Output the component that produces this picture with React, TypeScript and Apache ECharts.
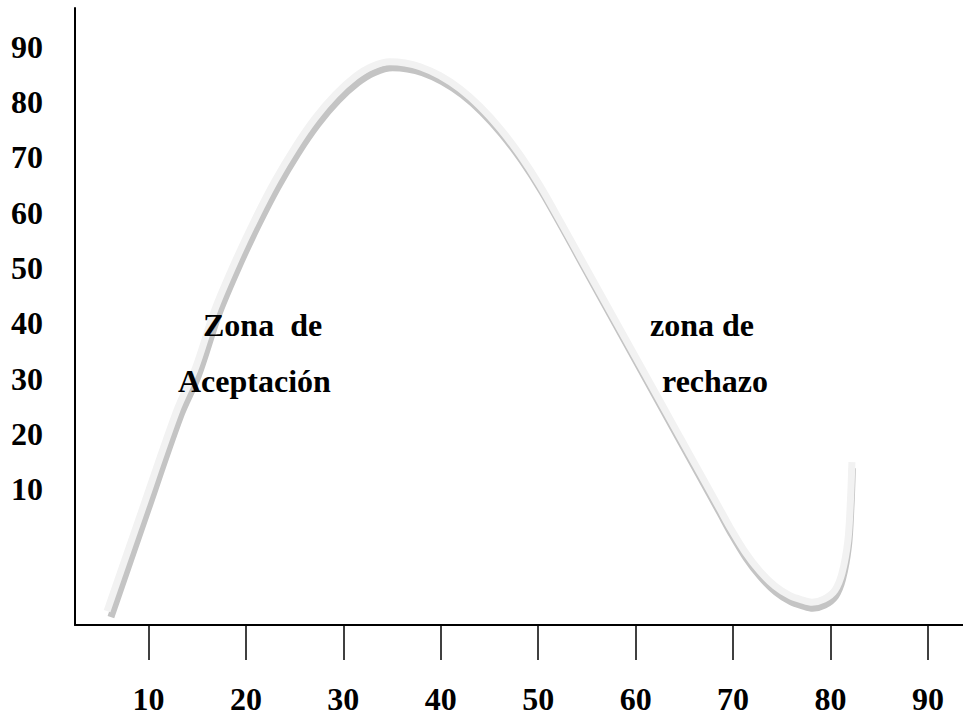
import React, { useEffect, useRef } from "react";
import * as echarts from "echarts";

const xTickValues = [10, 20, 30, 40, 50, 60, 70, 80, 90];
const yTickValues = [10, 20, 30, 40, 50, 60, 70, 80, 90];

const curveX = [
  5.75, 9.34, 12.93, 14.78, 16.83, 18.88, 20.94, 22.99, 25.04, 27.09, 29.15, 31.2, 32.94, 34.79,
  36.33, 37.87, 39.92, 41.97, 44.03, 46.08, 48.13, 50.18, 52.24, 54.29, 56.34, 60.45, 64.55, 66.61,
  68.66, 69.68, 71.22, 72.76, 74.3, 75.84, 77.07, 78.1, 79.33, 80.46, 81.18, 81.79, 82.05, 82.2,
];
const curveY = [
  -12.01, 6.26, 24.34, 31.72, 42.55, 51.1, 58.81, 65.77, 71.83, 77.05, 81.3, 84.56, 86.42, 87.27,
  87.05, 86.38, 84.78, 82.4, 79.21, 75.24, 70.46, 64.89, 58.53, 52.01, 45.5, 32.48, 19.46, 12.95,
  6.44, 3.18, -1.25, -4.79, -7.45, -9.2, -9.96, -10.38, -9.84, -8.21, -5.14, 0.83, 8.07, 14.94,
];

const zoneLeft = ["Zona  de", "Aceptación"];
const zoneRight = ["zona de", "rechazo"];

const X_MIN = 2.46;
const X_MAX = 93.6;
const Y_MIN = -14.5;
const Y_MAX = 97;

const FONT = "'Liberation Serif', 'Times New Roman', serif";

export default function App() {
  const ref = useRef<HTMLDivElement>(null);
  useEffect(() => {
    if (!ref.current) return;
    const chart = echarts.init(ref.current, null, { renderer: "svg" });
    const data = curveX.map((x, i) => [x, curveY[i]]);
    const labelStyle = { fontFamily: FONT, fontWeight: "bold" as const, fontSize: 32, color: "#000" };
    const textEl = (text: string, x: number, y: number) => ({
      type: "text",
      x,
      y,
      z: 100,
      style: { text, fill: "#000", font: `bold 32px ${FONT}`, textVerticalAlign: "middle" },
    });
    chart.setOption({
      animation: false,
      backgroundColor: "#fff",
      grid: [
        { left: 75, top: 8, width: 888, height: 617 },
        { left: 79, top: 14, width: 888, height: 617 },
      ],
      xAxis: [
        {
          type: "value",
          gridIndex: 0,
          min: X_MIN,
          max: X_MAX,
          axisLine: { show: true, onZero: false, lineStyle: { color: "#000", width: 2 } },
          axisTick: { show: true, length: 35, customValues: xTickValues, lineStyle: { color: "#000", width: 1.5 } },
          axisLabel: { ...labelStyle, margin: 58, customValues: xTickValues },
          splitLine: { show: false },
        },
        { type: "value", gridIndex: 1, min: X_MIN, max: X_MAX, show: false, splitLine: { show: false } },
      ],
      yAxis: [
        {
          type: "value",
          gridIndex: 0,
          min: Y_MIN,
          max: Y_MAX,
          axisLine: { show: true, onZero: false, lineStyle: { color: "#000", width: 2 } },
          axisTick: { show: false },
          axisLabel: { ...labelStyle, margin: 32, customValues: yTickValues },
          splitLine: { show: false },
        },
        { type: "value", gridIndex: 1, min: Y_MIN, max: Y_MAX, show: false, splitLine: { show: false } },
      ],
      series: [
        {
          type: "line",
          xAxisIndex: 1,
          yAxisIndex: 1,
          data,
          smooth: 0.3,
          showSymbol: false,
          z: 1,
          clip: false,
          lineStyle: { color: "#c4c4c4", width: 7 },
        },
        {
          type: "line",
          xAxisIndex: 0,
          yAxisIndex: 0,
          data,
          smooth: 0.3,
          showSymbol: false,
          z: 2,
          clip: false,
          lineStyle: { color: "#f2f2f2", width: 7 },
        },
      ],
      graphic: [
        textEl(zoneLeft[0], 203, 325),
        textEl(zoneLeft[1], 178, 381),
        textEl(zoneRight[0], 650, 325),
        textEl(zoneRight[1], 662, 381),
      ],
    });
    return () => chart.dispose();
  }, []);
  return <div ref={ref} style={{ position: "absolute", left: 0, top: 0, width: 963, height: 720 }} />;
}
